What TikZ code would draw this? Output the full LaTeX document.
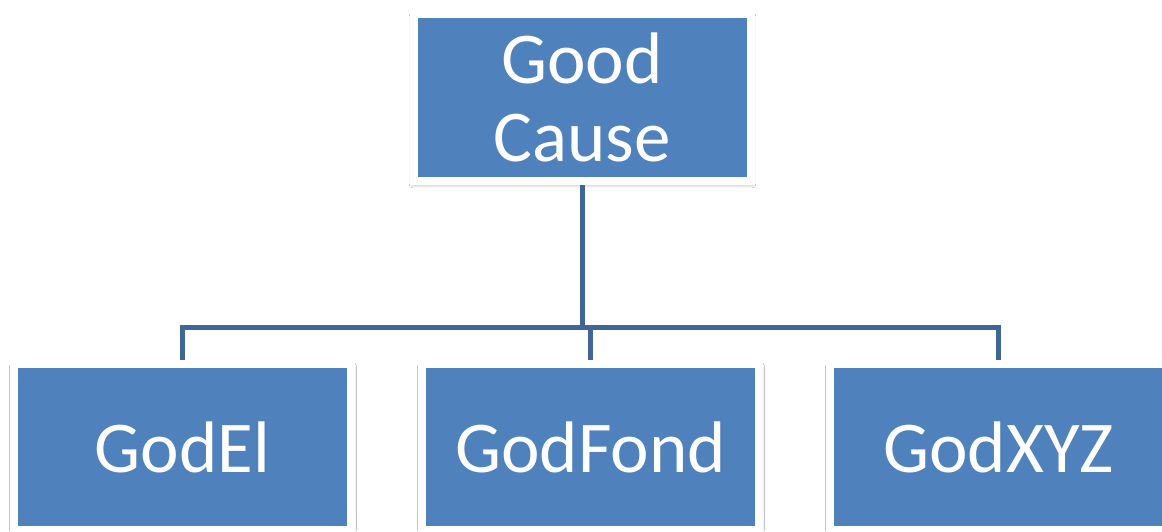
\documentclass[tikz,border=0pt]{standalone}
\usepackage{fontspec}
\setmainfont{Carlito}
\usetikzlibrary{shadows.blur}
\definecolor{boxblue}{RGB}{79,129,189}
\definecolor{lineblue}{RGB}{62,102,150}
\tikzset{
  orgbox/.style={rectangle, fill=boxblue, draw=white, line width=8pt,
    minimum width=337pt, text=white, inner sep=0pt,
    font=\fontsize{73}{78}\selectfont, align=center,
    blur shadow={shadow xshift=0.5pt, shadow yshift=-2.5pt, shadow opacity=45, shadow blur radius=4pt, shadow scale=1.005}},
  conn/.style={draw=lineblue, line width=5pt}
}
\begin{document}
\begin{tikzpicture}[x=1pt,y=-1pt]
\useasboundingbox[fill=white] (0,0) rectangle (1162,531);
\node[orgbox, minimum height=167pt] (top) at (582,97.5) {Good\\Cause};
\node[orgbox, minimum height=166pt] (a) at (182.5,447) {GodEl};
\node[orgbox, minimum height=166pt] (b) at (590.5,447) {GodFond};
\node[orgbox, minimum height=166pt] (c) at (998.5,447) {GodXYZ};
\coordinate (bus) at (0,327);
\draw[conn] (top.south) -- (top.south |- bus);
\draw[conn] (a.north) |- (c.north |- bus) -- (c.north);
\draw[conn] (b.north) -- (b.north |- bus);
\end{tikzpicture}
\end{document}
